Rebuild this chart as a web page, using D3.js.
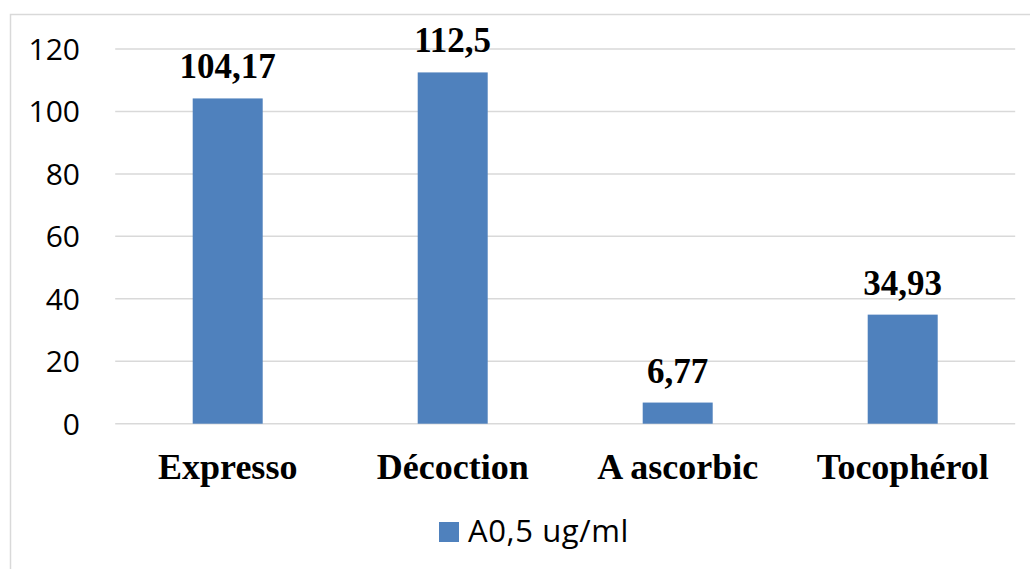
<!DOCTYPE html>
<html><head><meta charset="utf-8">
<script src="https://cdn.jsdelivr.net/npm/d3@7"></script>
<style>body{margin:0;background:#fff;} svg{display:block;}</style>
</head><body>
<svg id="chart" width="1030" height="569"></svg>
<script>
const categories = ["Expresso", "Décoction", "A ascorbic", "Tocophérol"];
const values = [104.17, 112.5, 6.77, 34.93];
const valueLabels = ["104,17", "112,5", "6,77", "34,93"];
const yTicks = [0, 20, 40, 60, 80, 100, 120];
const seriesName = "A0,5 ug/ml";

const svg = d3.select("#chart");
const plot = {left: 115.2, right: 1015.2, top: 49, bottom: 423.7};

// outer frame
svg.append("rect").attr("x", 10.5).attr("y", 14.5).attr("width", 1040).attr("height", 600)
  .attr("fill", "#fff").attr("stroke", "#d9d9d9").attr("stroke-width", 1.5);

const x = d3.scaleBand().domain(categories).range([plot.left, plot.right]).paddingInner(155/225).paddingOuter(77.5/225);
const y = d3.scaleLinear().domain([0, 120]).range([plot.bottom, plot.top]);

// gridlines
svg.append("g").selectAll("line").data(yTicks).join("line")
  .attr("x1", plot.left).attr("x2", plot.right)
  .attr("y1", d => y(d)).attr("y2", d => y(d))
  .attr("stroke", "#d9d9d9").attr("stroke-width", 1.5);

// y axis labels
const yAxis = d3.axisLeft(y).tickValues(yTicks).tickSize(0).tickPadding(0).tickFormat(d3.format("d"));
const gy = svg.append("g").attr("transform", `translate(80,0)`).call(yAxis);
gy.select(".domain").remove();
gy.selectAll("text").attr("font-family", "'Open Sans', sans-serif").attr("font-size", 30).attr("fill", "#000").attr("dy", "0.35em");

// bars
svg.append("g").selectAll("rect").data(values).join("rect")
  .attr("x", (d, i) => x(categories[i]))
  .attr("width", x.bandwidth())
  .attr("y", d => y(d))
  .attr("height", d => y(0) - y(d))
  .attr("fill", "#4F81BD");

// value labels
svg.append("g").selectAll("text").data(values).join("text")
  .attr("x", (d, i) => x(categories[i]) + x.bandwidth() / 2)
  .attr("y", d => y(d) - 20)
  .attr("text-anchor", "middle")
  .attr("font-family", "'Liberation Serif', 'Times New Roman', serif")
  .attr("font-weight", "bold").attr("font-size", 35).attr("fill", "#000")
  .text((d, i) => valueLabels[i]);

// x axis labels
const xAxis = d3.axisBottom(x).tickSize(0).tickPadding(0);
const gx = svg.append("g").attr("transform", `translate(0,${plot.bottom})`).call(xAxis);
gx.select(".domain").remove();
gx.selectAll("text").attr("font-family", "'Liberation Serif', 'Times New Roman', serif")
  .attr("font-weight", "bold").attr("font-size", 36).attr("fill", "#000")
  .attr("y", 55).attr("dy", 0);

// legend
const lg = svg.append("g");
lg.append("rect").attr("x", 439).attr("y", 522).attr("width", 20).attr("height", 20).attr("fill", "#4F81BD");
lg.append("text").attr("x", 468).attr("y", 542).attr("font-family", "'Open Sans', sans-serif")
  .attr("font-size", 31).attr("letter-spacing", 0.6).attr("fill", "#000").text(seriesName);
</script>
</body></html>
